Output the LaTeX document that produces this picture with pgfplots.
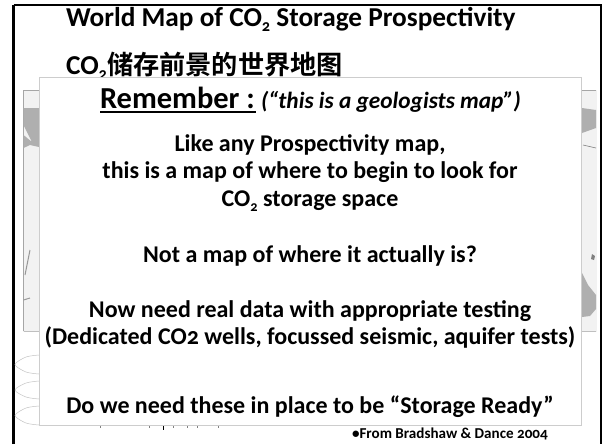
\documentclass[border=0pt]{standalone}
\usepackage{fontspec}
\usepackage{pgfplots}
\pgfplotsset{compat=1.18}
\setmainfont[Numbers=OldStyle]{Carlito}
\newfontfamily\cjk{Noto Sans CJK SC}[BoldFont={Noto Sans CJK SC Bold}]
\newcommand{\fs}[1]{\fontsize{#1}{#1}\selectfont\bfseries}
\newcommand{\subtwo}{\raisebox{-0.45ex}{\scalebox{0.6}{2}}}
\definecolor{mapbg}{RGB}{242,242,242}
\definecolor{mapgray}{RGB}{175,175,175}
\definecolor{panelline}{RGB}{205,205,205}
\definecolor{ovalline}{RGB}{195,195,195}
\begin{document}
\begin{tikzpicture}[every node/.append style={inner sep=0pt, outer sep=0pt}]
\begin{axis}[
    scale only axis, width=602pt, height=444pt,
    xmin=0, xmax=602, ymin=0, ymax=444, y dir=reverse,
    hide axis, clip=false,
]
% keeps the whole slide in the bounding box
\path (axis cs:0,0) rectangle (axis cs:602,444);
% frame, open at the bottom
\addplot[black, line width=2.4pt] coordinates {(13.5,444) (13.5,4.5)};
\addplot[black, line width=2pt] coordinates {(13.5,4.5) (600.7,4.5) (600.7,444)};
% map behind the panel
\addplot[fill=mapbg, draw=mapbg] coordinates {(23.5,90) (596,90) (596,331) (23.5,331) (23.5,90)};
\addplot[gray!70, line width=0.8pt] coordinates {(23.5,90) (596,90)};
\addplot[black!35, line width=0.6pt] coordinates {(23.5,90) (23.5,331)};
\addplot[black!25, line width=0.6pt] coordinates {(23.5,331) (596,331)};
% the bits of map that show at the sides
\addplot[fill=mapgray, draw=none] coordinates {(23.5,108) (39,108) (39,147) (30,145) (23.5,148) (23.5,135) (32,142) (23.5,125) (23.5,108)};
\addplot[fill=mapgray, draw=none] coordinates {(582,108) (596,110) (596,128) (582,133) (582,108)};
\addplot[gray, line width=0.6pt] coordinates {(583,145) (596,148)};
\addplot[fill=mapgray, draw=none] coordinates {(582,273) (588,285) (596,295) (596,309) (590,316) (582,317) (582,273)};
\addplot[fill=gray, draw=none] coordinates {(592,254) (595,256) (594,260) (591,259) (592,254)};
\addplot[gray!80, line width=1pt] coordinates {(30,250) (25,275)};
\addplot[gray!80, line width=1pt] coordinates {(23.5,300) (30,298)};
% ovals of the slide layout
\addplot[ovalline, line width=0.5pt, smooth] coordinates {(39,355) (26,357) (15,364.5) (26,372) (39,374)};
\addplot[ovalline, line width=0.5pt, smooth] coordinates {(39,381) (26,383) (15,390) (26,397) (39,399)};
\addplot[ovalline, line width=0.5pt, smooth] coordinates {(39,406) (26,408) (15,415.5) (26,423) (39,425)};
% text cut off under the panel
\addplot[black, line width=1pt] coordinates {(163,425) (163,430)};
\addplot[gray, line width=0.8pt] coordinates {(100,426) (100,427.5)};
\addplot[gray, line width=0.8pt] coordinates {(149,426) (149,427.5)};
\addplot[gray, line width=0.8pt] coordinates {(173,426) (173,427.5)};
\addplot[gray, line width=0.8pt] coordinates {(187,426) (187,427.5)};
\addplot[gray, line width=0.8pt] coordinates {(197,426) (197,427.5)};
\addplot[gray, line width=0.8pt] coordinates {(218,426) (218,427.5)};
% title
\node[anchor=base west] at (axis cs:66,26) {\fs{27.3}World Map of CO\subtwo{} Storage Prospectivity};
\node[anchor=base west] at (axis cs:66,74) {\fs{27.3}CO\subtwo{\fs{26.2}\cjk 储存前景的世界地图}};
% panel over everything
\addplot[fill=white, draw=panelline, line width=0.7pt] coordinates {(39.5,77) (581,77) (581,425) (39.5,425) (39.5,77)};
\addplot[black, line width=2pt] coordinates {(100,112) (256,112)};
\node[anchor=base west] at (axis cs:100,108) {\fs{30.5}Remember :};
\node[anchor=base west] at (axis cs:261,108) {\fs{23.3}\itshape (“this is a geologists map”)};
\node[anchor=base] at (axis cs:310,151) {\fs{24}Like any Prospectivity map,};
\node[anchor=base] at (axis cs:310,178) {\fs{24}this is a map of where to begin to look for};
\node[anchor=base] at (axis cs:310,206) {\fs{24}CO\subtwo{} storage space};
\node[anchor=base] at (axis cs:310,262) {\fs{24}Not a map of where it actually is?};
\node[anchor=base] at (axis cs:310,317) {\fs{24}Now need real data with appropriate testing};
\node[anchor=base] at (axis cs:310,344) {\fs{24}(Dedicated CO2 wells, focussed seismic, aquifer tests)};
\node[anchor=base] at (axis cs:310,413) {\fs{24}Do we need these in place to be “Storage Ready”};
\node[anchor=base west] at (axis cs:352,438) {\fs{15.1}•From Bradshaw \& Dance 2004};
\end{axis}
\end{tikzpicture}
\end{document}
